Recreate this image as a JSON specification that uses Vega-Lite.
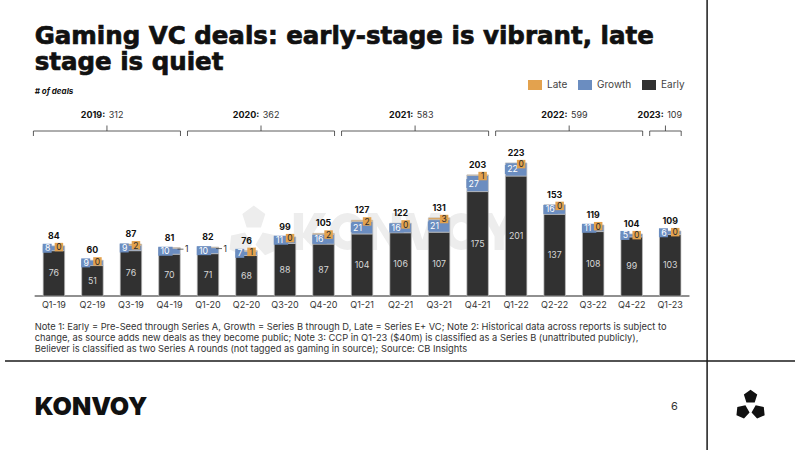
{
  "$schema": "https://vega.github.io/schema/vega-lite/v6.json",
  "width": 800,
  "height": 450,
  "autosize": "none",
  "padding": 0,
  "background": "white",
  "config": {
    "view": {"stroke": null},
    "font": "Inter",
    "axis": {"disable": true},
    "legend": {
      "orient": "none",
      "legendX": 530,
      "legendY": 80,
      "direction": "horizontal",
      "title": null,
      "symbolType": "M-1.4,-1H1.4V1H-1.4Z",
      "symbolSize": 100,
      "symbolStrokeWidth": 0,
      "symbolOpacity": 1,
      "labelFont": "Inter",
      "labelFontSize": 10,
      "labelColor": "#444444",
      "labelOffset": 7,
      "columnPadding": 10
    }
  },
  "datasets": {
    "deals": [
      {"q": "Q1-19", "year": "2019", "Early": 76, "Growth": 8, "Late": 0},
      {"q": "Q2-19", "year": "2019", "Early": 51, "Growth": 9, "Late": 0},
      {"q": "Q3-19", "year": "2019", "Early": 76, "Growth": 9, "Late": 2},
      {"q": "Q4-19", "year": "2019", "Early": 70, "Growth": 10, "Late": 1},
      {"q": "Q1-20", "year": "2020", "Early": 71, "Growth": 10, "Late": 1},
      {"q": "Q2-20", "year": "2020", "Early": 68, "Growth": 7, "Late": 1},
      {"q": "Q3-20", "year": "2020", "Early": 88, "Growth": 11, "Late": 0},
      {"q": "Q4-20", "year": "2020", "Early": 87, "Growth": 16, "Late": 2},
      {"q": "Q1-21", "year": "2021", "Early": 104, "Growth": 21, "Late": 2},
      {"q": "Q2-21", "year": "2021", "Early": 106, "Growth": 16, "Late": 0},
      {"q": "Q3-21", "year": "2021", "Early": 107, "Growth": 21, "Late": 3},
      {"q": "Q4-21", "year": "2021", "Early": 175, "Growth": 27, "Late": 1},
      {"q": "Q1-22", "year": "2022", "Early": 201, "Growth": 22, "Late": 0},
      {"q": "Q2-22", "year": "2022", "Early": 137, "Growth": 16, "Late": 0},
      {"q": "Q3-22", "year": "2022", "Early": 108, "Growth": 11, "Late": 0},
      {"q": "Q4-22", "year": "2022", "Early": 99, "Growth": 5, "Late": 0},
      {"q": "Q1-23", "year": "2023", "Early": 103, "Growth": 6, "Late": 0}
    ]
  },
  "layer": [
    {
      "data": {"values": [{}]},
      "mark": {"type": "point", "filled": true, "color": "#ededed", "opacity": 1, "size": 1369, "strokeWidth": 0,
        "shape": "M-6,-1H-5.5V1H-6ZM-5.55,0.2L-4.9,-1H-4.25L-5.25,0.6ZM-5.3,-0.15L-4.2,1H-4.85L-5.55,0.25ZM-4.05,0A0.95,1 0 1,1 -2.15,0A0.95,1 0 1,1 -4.05,0ZM-3.55,0A0.45,0.52 0 1,0 -2.65,0A0.45,0.52 0 1,0 -3.55,0ZM-2,1V-1H-1.5L-0.7,0.3V-1H-0.2V1H-0.7L-1.5,-0.3V1ZM-0.05,-1H0.5L0.95,0.45L1.4,-1H1.95L1.25,1H0.65ZM2.1,0A0.95,1 0 1,1 4,0A0.95,1 0 1,1 2.1,0ZM2.6,0A0.45,0.52 0 1,0 3.5,0A0.45,0.52 0 1,0 2.6,0ZM4.15,-1H4.72L5.1,-0.25L5.48,-1H6.05L5.35,0.25V1H4.85V0.25Z"},
      "encoding": {
        "x": {"datum": 10.11, "type": "quantitative", "scale": {"domain": [-0.27, 20.24], "nice": false, "zero": false}, "axis": null},
        "y": {"datum": 108.1, "type": "quantitative", "scale": {"domain": [-258, 496], "nice": false, "zero": false}, "axis": null}
      }
    },
    {
      "data": {"values": [{}]},
      "mark": {"type": "point", "filled": true, "color": "#ededed", "opacity": 1, "size": 3025, "strokeWidth": 0,
        "shape": "M0,-0.96L0.418,-0.656L0.259,-0.164L-0.259,-0.164L-0.418,-0.656ZM-0.881,0.64L-0.827,0.126L-0.321,0.018L-0.062,0.466L-0.409,0.85ZM0.881,0.64L0.827,0.126L0.321,0.018L0.062,0.466L0.409,0.85Z"},
      "encoding": {
        "x": {"datum": 6.19, "type": "quantitative", "scale": {"domain": [-0.27, 20.24], "nice": false, "zero": false}, "axis": null},
        "y": {"datum": 107.3, "type": "quantitative", "scale": {"domain": [-258, 496], "nice": false, "zero": false}, "axis": null}
      }
    },
    {
      "data": {"values": [{}]},
      "mark": {"type": "text", "text": ["Gaming VC deals: early-stage is vibrant, late", "stage is quiet"], "font": "DejaVu Sans", "fontSize": 24.5, "fontWeight": "bold", "lineHeight": 26, "color": "#111111", "stroke": "#111111", "strokeWidth": 0.7, "align": "left", "baseline": "alphabetic"},
      "encoding": {
        "x": {"datum": 0.5, "type": "quantitative", "scale": {"domain": [-0.27, 20.24], "nice": false, "zero": false}, "axis": null},
        "y": {"datum": 422.3, "type": "quantitative", "scale": {"domain": [-258, 496], "nice": false, "zero": false}, "axis": null}
      }
    },
    {
      "data": {"values": [{}]},
      "mark": {"type": "text", "text": "# of deals", "font": "Inter", "fontSize": 8, "fontWeight": "bold", "fontStyle": "italic", "color": "#111111", "align": "left", "baseline": "alphabetic"},
      "encoding": {
        "x": {"datum": 0.5, "type": "quantitative", "scale": {"domain": [-0.27, 20.24], "nice": false, "zero": false}, "axis": null},
        "y": {"datum": 338.5, "type": "quantitative", "scale": {"domain": [-258, 496], "nice": false, "zero": false}, "axis": null}
      }
    },
    {
      "data": {"values": [{}]},
      "mark": {"type": "text", "text": [
        "Note 1: Early = Pre-Seed through Series A, Growth = Series B through D, Late = Series E+ VC; Note 2: Historical data across reports is subject to",
        "change, as source adds new deals as they become public; Note 3: CCP in Q1-23 ($40m) is classified as a Series B (unattributed publicly),",
        "Believer is classified as two Series A rounds (not tagged as gaming in source); Source: CB Insights"],
        "font": "Inter", "fontSize": 9.3, "lineHeight": 11, "color": "#333333", "align": "left", "baseline": "alphabetic"},
      "encoding": {
        "x": {"datum": 0.5, "type": "quantitative", "scale": {"domain": [-0.27, 20.24], "nice": false, "zero": false}, "axis": null},
        "y": {"datum": -56.9, "type": "quantitative", "scale": {"domain": [-258, 496], "nice": false, "zero": false}, "axis": null}
      }
    },
    {
      "data": {"values": [{}]},
      "mark": {"type": "rule", "color": "#1a1a1a", "strokeWidth": 1.5},
      "encoding": {
        "x": {"datum": 17.958, "type": "quantitative", "scale": {"domain": [-0.27, 20.24], "nice": false, "zero": false}, "axis": null},
        "y": {"datum": 496, "type": "quantitative", "scale": {"domain": [-258, 496], "nice": false, "zero": false}, "axis": null},
        "y2": {"datum": -258}
      }
    },
    {
      "data": {"values": [{}]},
      "mark": {"type": "rule", "color": "#1a1a1a", "strokeWidth": 1.5},
      "encoding": {
        "x": {"datum": -0.27, "type": "quantitative", "scale": {"domain": [-0.27, 20.24], "nice": false, "zero": false}, "axis": null},
        "x2": {"datum": 20.24},
        "y": {"datum": -108.9, "type": "quantitative", "scale": {"domain": [-258, 496], "nice": false, "zero": false}, "axis": null}
      }
    },
    {
      "data": {"values": [{}]},
      "mark": {"type": "text", "text": "KONVOY", "font": "Inter", "fontSize": 25, "fontWeight": 900, "color": "#111111", "align": "left", "baseline": "alphabetic"},
      "encoding": {
        "x": {"datum": 0.5, "type": "quantitative", "scale": {"domain": [-0.27, 20.24], "nice": false, "zero": false}, "axis": null},
        "y": {"datum": -199.4, "type": "quantitative", "scale": {"domain": [-258, 496], "nice": false, "zero": false}, "axis": null}
      }
    },
    {
      "data": {"values": [{}]},
      "mark": {"type": "text", "text": "6", "font": "Inter", "fontSize": 11, "color": "#333333", "align": "center", "baseline": "alphabetic"},
      "encoding": {
        "x": {"datum": 17.112, "type": "quantitative", "scale": {"domain": [-0.27, 20.24], "nice": false, "zero": false}, "axis": null},
        "y": {"datum": -191, "type": "quantitative", "scale": {"domain": [-258, 496], "nice": false, "zero": false}, "axis": null}
      }
    },
    {
      "data": {"values": [{}]},
      "mark": {"type": "point", "filled": true, "color": "#111111", "opacity": 1, "size": 1024, "strokeWidth": 0,
        "shape": "M0,-0.96L0.418,-0.656L0.259,-0.164L-0.259,-0.164L-0.418,-0.656ZM-0.881,0.64L-0.827,0.126L-0.321,0.018L-0.062,0.466L-0.409,0.85ZM0.881,0.64L0.827,0.126L0.321,0.018L0.062,0.466L0.409,0.85Z"},
      "encoding": {
        "x": {"datum": 19.086, "type": "quantitative", "scale": {"domain": [-0.27, 20.24], "nice": false, "zero": false}, "axis": null},
        "y": {"datum": -182.6, "type": "quantitative", "scale": {"domain": [-258, 496], "nice": false, "zero": false}, "axis": null}
      }
    },
    {
      "data": {"values": [{}]},
      "mark": {"type": "rule", "color": "#222222", "strokeWidth": 1.2},
      "encoding": {
        "x": {"datum": 0.5, "type": "quantitative", "scale": {"domain": [-0.27, 20.24], "nice": false, "zero": false}, "axis": null},
        "x2": {"datum": 17.5},
        "y": {"datum": 0, "type": "quantitative", "scale": {"domain": [-258, 496], "nice": false, "zero": false}, "axis": null}
      }
    },
    {
      "data": {"name": "deals"},
      "transform": [
        {"window": [{"op": "row_number", "as": "i"}]},
        {"fold": ["Early", "Growth", "Late"], "as": ["stage", "n"]},
        {"stack": "n", "groupby": ["q"], "sort": [{"field": "stage", "order": "ascending"}], "as": ["y0", "y1"], "offset": "zero"}
      ],
      "layer": [
        {
          "transform": [{"filter": "datum.n > 0"}],
          "mark": {"type": "bar", "width": 21.5, "stroke": "#bdbdbd", "strokeWidth": 0.7},
          "encoding": {
            "x": {"field": "i", "type": "quantitative", "scale": {"domain": [-0.27, 20.24], "nice": false, "zero": false}, "axis": null},
            "y": {"field": "y1", "type": "quantitative", "scale": {"domain": [-258, 496], "nice": false, "zero": false}, "axis": null},
            "y2": {"field": "y0"},
            "color": {"field": "stage", "type": "nominal", "scale": {"domain": ["Late", "Growth", "Early"], "range": ["#e3a24e", "#6b8dc0", "#313131"]}}
          }
        },
        {
          "transform": [
            {"fold": ["y0", "y1"], "as": ["edge", "pos"]},
            {"aggregate": [{"op": "mean", "field": "pos", "as": "ymid"}], "groupby": ["q", "i", "stage", "n"]}
          ],
          "encoding": {
            "x": {"field": "i", "type": "quantitative", "scale": {"domain": [-0.27, 20.24], "nice": false, "zero": false}, "axis": null},
            "y": {"field": "ymid", "type": "quantitative", "scale": {"domain": [-258, 496], "nice": false, "zero": false}, "axis": null}
          },
          "layer": [
            {
              "transform": [{"filter": "datum.stage === 'Early'"}],
              "mark": {"type": "text", "font": "Inter", "fontSize": 8.8, "color": "#d6d6d6", "align": "center", "baseline": "middle"},
              "encoding": {"text": {"field": "n", "type": "quantitative"}}
            },
            {
              "transform": [{"filter": "datum.stage === 'Growth'"}],
              "mark": {"type": "point", "filled": true, "color": "#6b8dc0", "opacity": 1, "size": 81, "strokeWidth": 0, "xOffset": -11.25},
              "encoding": {
                "shape": {"condition": {"test": "datum.n >= 10", "value": "M0,-1H3.2V1H0Z"}, "value": "M0,-1H2V1H0Z"}
              }
            },
            {
              "transform": [{"filter": "datum.stage === 'Growth'"}],
              "mark": {"type": "text", "font": "Inter", "fontSize": 8.8, "color": "#ffffff", "align": "left", "baseline": "middle", "xOffset": -9},
              "encoding": {"text": {"field": "n", "type": "quantitative"}}
            }
          ]
        },
        {
          "transform": [{"filter": "datum.stage === 'Late'"}],
          "encoding": {
            "x": {"field": "i", "type": "quantitative", "scale": {"domain": [-0.27, 20.24], "nice": false, "zero": false}, "axis": null},
            "y": {"field": "y1", "type": "quantitative", "scale": {"domain": [-258, 496], "nice": false, "zero": false}, "axis": null}
          },
          "layer": [
            {
              "mark": {"type": "text", "font": "Inter", "fontSize": 8.8, "fontWeight": "bold", "color": "#111111", "align": "center", "baseline": "alphabetic", "dy": -7},
              "encoding": {"text": {"field": "y1", "type": "quantitative"}}
            },
            {
              "transform": [{"filter": "datum.q !== 'Q4-19' && datum.q !== 'Q1-20'"}],
              "mark": {"type": "point", "filled": true, "color": "#e3a24e", "opacity": 1, "size": 72, "strokeWidth": 0, "shape": "M-2,-1H0V1H-2Z", "xOffset": 9.25, "yOffset": 1.2}
            },
            {
              "transform": [{"filter": "datum.q !== 'Q4-19' && datum.q !== 'Q1-20'"}],
              "mark": {"type": "text", "font": "Inter", "fontSize": 8.5, "color": "#2b2b2b", "align": "center", "baseline": "middle", "xOffset": 5, "yOffset": 1.5},
              "encoding": {"text": {"field": "n", "type": "quantitative"}}
            },
            {
              "transform": [{"filter": "datum.q === 'Q4-19' || datum.q === 'Q1-20'"}],
              "mark": {"type": "rule", "color": "#444444", "strokeWidth": 0.8, "xOffset": 8, "x2Offset": 14, "yOffset": 1.5},
              "encoding": {"x2": {"field": "i"}}
            },
            {
              "transform": [{"filter": "datum.q === 'Q4-19' || datum.q === 'Q1-20'"}],
              "mark": {"type": "text", "font": "Inter", "fontSize": 8.5, "color": "#2b2b2b", "align": "left", "baseline": "middle", "xOffset": 15.5, "yOffset": 1.5},
              "encoding": {"text": {"field": "n", "type": "quantitative"}}
            }
          ]
        },
        {
          "transform": [{"filter": "datum.stage === 'Early'"}],
          "mark": {"type": "text", "font": "Inter", "fontSize": 9, "color": "#333333", "align": "center", "baseline": "alphabetic", "dy": 12},
          "encoding": {
            "x": {"field": "i", "type": "quantitative", "scale": {"domain": [-0.27, 20.24], "nice": false, "zero": false}, "axis": null},
            "y": {"datum": 0, "type": "quantitative", "scale": {"domain": [-258, 496], "nice": false, "zero": false}, "axis": null},
            "text": {"field": "q", "type": "nominal"}
          }
        },
        {
          "transform": [
            {"aggregate": [
              {"op": "sum", "field": "n", "as": "total"},
              {"op": "min", "field": "i", "as": "i0"},
              {"op": "max", "field": "i", "as": "i1"},
              {"op": "mean", "field": "i", "as": "im"}
            ], "groupby": ["year"]}
          ],
          "layer": [
            {
              "mark": {"type": "rule", "color": "#333333", "strokeWidth": 0.8, "xOffset": -20.5, "x2Offset": 11},
              "encoding": {
                "x": {"field": "i0", "type": "quantitative", "scale": {"domain": [-0.27, 20.24], "nice": false, "zero": false}, "axis": null},
                "x2": {"field": "i1"},
                "y": {"datum": 276.5, "type": "quantitative", "scale": {"domain": [-258, 496], "nice": false, "zero": false}, "axis": null}
              }
            },
            {
              "mark": {"type": "rule", "color": "#333333", "strokeWidth": 0.8, "xOffset": -20.5},
              "encoding": {
                "x": {"field": "i0", "type": "quantitative", "scale": {"domain": [-0.27, 20.24], "nice": false, "zero": false}, "axis": null},
                "y": {"datum": 276.5, "type": "quantitative", "scale": {"domain": [-258, 496], "nice": false, "zero": false}, "axis": null},
                "y2": {"datum": 268.1}
              }
            },
            {
              "mark": {"type": "rule", "color": "#333333", "strokeWidth": 0.8, "xOffset": 11},
              "encoding": {
                "x": {"field": "i1", "type": "quantitative", "scale": {"domain": [-0.27, 20.24], "nice": false, "zero": false}, "axis": null},
                "y": {"datum": 276.5, "type": "quantitative", "scale": {"domain": [-258, 496], "nice": false, "zero": false}, "axis": null},
                "y2": {"datum": 268.1}
              }
            },
            {
              "mark": {"type": "rule", "color": "#333333", "strokeWidth": 0.8, "xOffset": -4.75},
              "encoding": {
                "x": {"field": "im", "type": "quantitative", "scale": {"domain": [-0.27, 20.24], "nice": false, "zero": false}, "axis": null},
                "y": {"datum": 276.5, "type": "quantitative", "scale": {"domain": [-258, 496], "nice": false, "zero": false}, "axis": null},
                "y2": {"datum": 285.7}
              }
            },
            {
              "mark": {"type": "text", "font": "Inter", "fontSize": 9, "fontWeight": "bold", "color": "#111111", "align": "right", "baseline": "alphabetic", "xOffset": -6.5},
              "encoding": {
                "x": {"field": "im", "type": "quantitative", "scale": {"domain": [-0.27, 20.24], "nice": false, "zero": false}, "axis": null},
                "y": {"datum": 298.8, "type": "quantitative", "scale": {"domain": [-258, 496], "nice": false, "zero": false}, "axis": null},
                "text": {"field": "year", "type": "temporal", "timeUnit": "utcyear", "format": "%Y:"}
              }
            },
            {
              "mark": {"type": "text", "font": "Inter", "fontSize": 9, "color": "#333333", "align": "left", "baseline": "alphabetic", "xOffset": -3},
              "encoding": {
                "x": {"field": "im", "type": "quantitative", "scale": {"domain": [-0.27, 20.24], "nice": false, "zero": false}, "axis": null},
                "y": {"datum": 298.8, "type": "quantitative", "scale": {"domain": [-258, 496], "nice": false, "zero": false}, "axis": null},
                "text": {"field": "total", "type": "quantitative", "format": "d"}
              }
            }
          ]
        }
      ]
    }
  ]
}
